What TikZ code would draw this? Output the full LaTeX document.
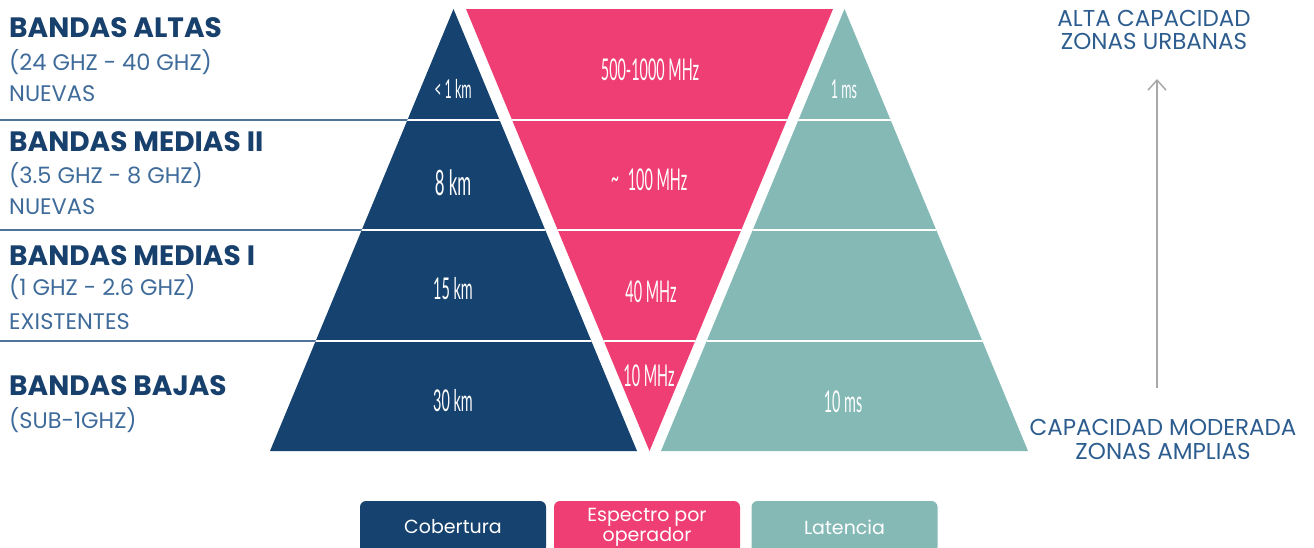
\documentclass[tikz,border=0pt]{standalone}
\usepackage{fontspec}
\setmainfont{Poppins}
\newfontfamily\condfont[FakeStretch=0.48]{Lato}
\usetikzlibrary{arrows.meta}
\definecolor{cblue}{HTML}{16426F}
\definecolor{cpink}{HTML}{EF3E74}
\definecolor{cteal}{HTML}{84B9B6}
\definecolor{ctitle}{HTML}{17406C}
\definecolor{csub}{HTML}{3F6B9A}
\definecolor{crule}{HTML}{4F7399}
\definecolor{cright}{HTML}{2D5D8F}
\definecolor{carrow}{HTML}{A8A8A8}
\tikzset{
  bandtitle/.style={anchor=base west, inner sep=0pt, text=ctitle, font=\fontsize{28}{32}\selectfont\bfseries},
  bandsub/.style={anchor=base west, inner sep=0pt, text=csub, font=\fontsize{22.5}{26}\selectfont},
  vallabel/.style={inner sep=0pt, text=white, font=\condfont\fontsize{30}{32}\selectfont},
  sidetext/.style={anchor=base, inner sep=0pt, text=cright, font=\fontsize{23}{26}\selectfont},
  legbox/.style={rounded corners=6pt, minimum width=186pt, minimum height=52pt, inner sep=0pt, text=white, align=center, font=\fontsize{19}{17}\selectfont},
  bandrule/.style={draw=crule, line width=1.4pt},
  sepline/.style={draw=white, line width=1.4pt},
  arrowline/.style={draw=carrow, line width=1.5pt, -{Straight Barb[length=10pt,width=18pt]}}
}
\begin{document}
\begin{tikzpicture}[x=1pt,y=-1pt]
\useasboundingbox (0,0) rectangle (1314,547);

% left rules
\draw[bandrule] (0,120) -- (453,120);
\draw[bandrule] (0,230) -- (453,230);
\draw[bandrule] (0,341) -- (453,341);

% triangles
\fill[cblue] (270,451) -- (453.5,9) -- (637,451) -- cycle;
\fill[cpink] (466,9) -- (833,9) -- (649.5,451) -- cycle;
\fill[cteal] (661,451) -- (844.5,9) -- (1028,451) -- cycle;

% white separators inside triangles
\begin{scope}
\clip (270,451) -- (453.5,9) -- (637,451) -- cycle
      (466,9) -- (833,9) -- (649.5,451) -- cycle
      (661,451) -- (844.5,9) -- (1028,451) -- cycle;
\draw[sepline] (260,120) -- (1040,120);
\draw[sepline] (260,230) -- (1040,230);
\draw[sepline] (260,341) -- (1040,341);
\end{scope}

% left labels
\node[bandtitle] (t1) at (9,37) {BANDAS ALTAS};
\node[bandsub] (s1a) at (9,70) {(24 GHZ - 40 GHZ)};
\node[bandsub] (s1b) at (9,101) {NUEVAS};
\node[bandtitle] (t2) at (9,151) {BANDAS MEDIAS II};
\node[bandsub] (s2a) at (9,183) {(3.5 GHZ - 8 GHZ)};
\node[bandsub] (s2b) at (9,214) {NUEVAS};
\node[bandtitle] (t3) at (9,265) {BANDAS MEDIAS I};
\node[bandsub] (s3a) at (9,295) {(1 GHZ - 2.6 GHZ)};
\node[bandsub] (s3b) at (9,329) {EXISTENTES};
\node[bandtitle] (t4) at (9,395) {BANDAS BAJAS};
\node[bandsub] (s4a) at (9,428) {(SUB-1GHZ)};

% values
\node[vallabel, font=\condfont\fontsize{26}{28}\selectfont] (c1) at (453,89) {< 1 km};
\node[vallabel, font=\condfont\fontsize{35}{36}\selectfont] (c2) at (453,183) {8 km};
\node[vallabel] (c3) at (453,289) {15 km};
\node[vallabel] (c4) at (453,401) {30 km};
\node[vallabel, font=\condfont\fontsize{30}{32}\selectfont] (p1) at (650,70) {500-1000 MHz};
\node[vallabel] (p2) at (649,180) {\raisebox{2pt}{\textasciitilde}\, 100 MHz};
\node[vallabel] (p3) at (651,292) {40 MHz};
\node[vallabel] (p4) at (649,376) {10 MHz};
\node[vallabel, font=\condfont\fontsize{26}{28}\selectfont] (l1) at (844,89) {1 ms};
\node[vallabel] (l4) at (843,402) {10 ms};

% right side
\node[sidetext] (r1) at (1154,26) {ALTA CAPACIDAD};
\node[sidetext] (r2) at (1154,49) {ZONAS URBANAS};
\node[sidetext] (r3) at (1163,435) {CAPACIDAD MODERADA};
\node[sidetext] (r4) at (1163,459) {ZONAS AMPLIAS};
\coordinate (arrlo) at (1157,388);
\coordinate (arrhi) at (1157,79);
\draw[arrowline] (arrlo) -- (arrhi);

% legend
\node[legbox, fill=cblue] (leg1) at (453,527) {Cobertura};
\node[legbox, fill=cpink] (leg2) at (647,527) {Espectro por\\operador};
\node[legbox, fill=cteal] (leg3) at (844.5,527) {Latencia};
\end{tikzpicture}
\end{document}
